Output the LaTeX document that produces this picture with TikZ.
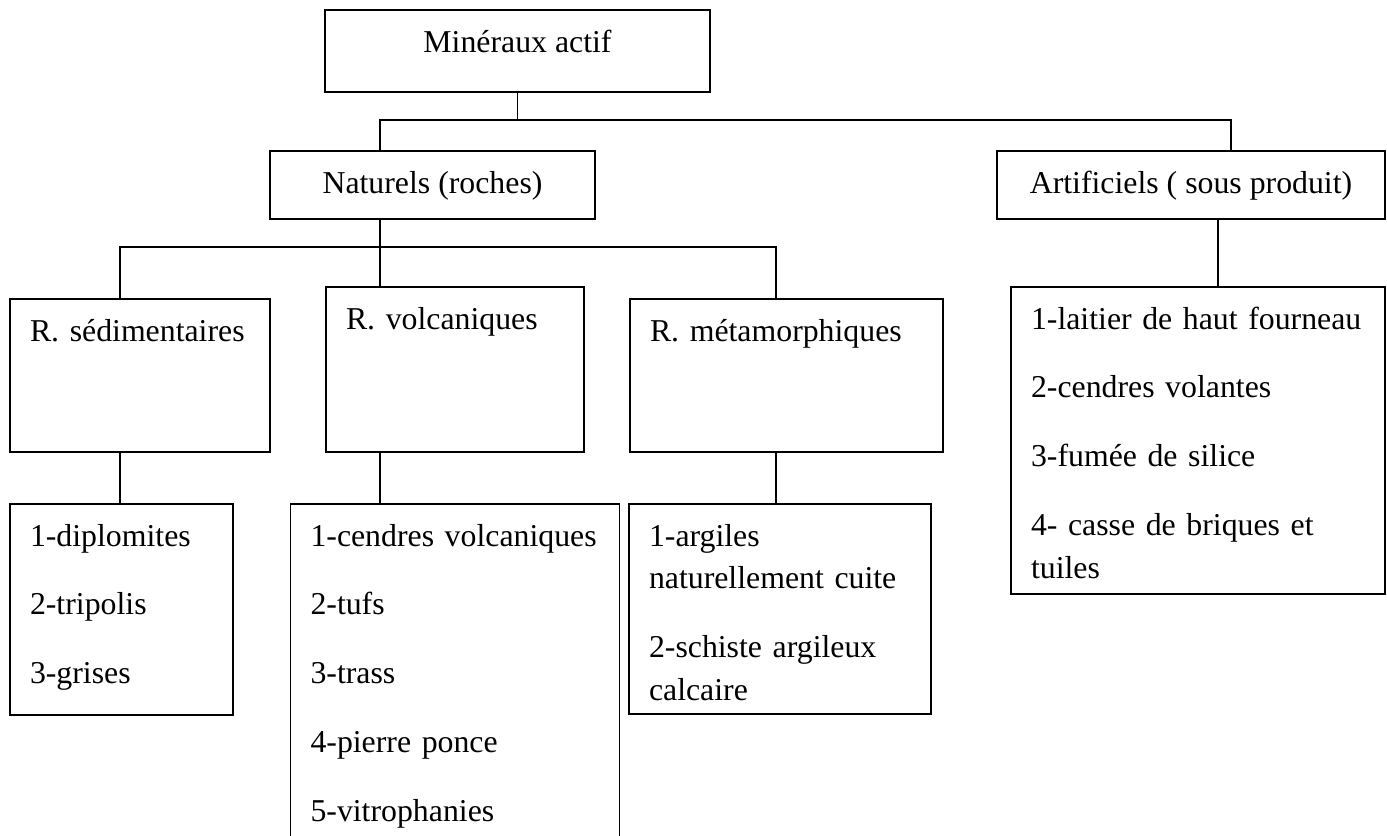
\documentclass[tikz,border=0pt]{standalone}
\usepackage{fontspec}
\setmainfont{Liberation Serif}
\usetikzlibrary{positioning}

\begin{document}
\begin{tikzpicture}[%
font=\fontsize{18.1pt}{24.4pt}\selectfont,
box/.style={draw, line width=1.1pt, inner xsep=0.4cm, inner ysep=0pt, outer sep=0pt, text height=0.84cm},
listbox/.style={box, align=left},
link/.style={line width=0.8pt},
on grid
]
\useasboundingbox (0,0) rectangle (27.74,-16.7);

\node[box, minimum width=7.7cm, text depth=0.8cm] (top) at (10.35,-1.02) {Minéraux actif};

\node[box, minimum width=6.5cm, text depth=0.52cm] (nat) [below left=2.68cm and 1.7cm of top] {Naturels (roches)};
\node[box, minimum width=7.76cm, text depth=0.52cm] (art) [below right=2.68cm and 13.47cm of top] {Artificiels ( sous produit)};

\node[listbox, text width=4.36cm, text depth=2.46cm] (volc) [below right=3.69cm and 0.45cm of nat] {R. volcaniques};
\node[listbox, text width=4.4cm, text depth=2.22cm] (sed) [below left=0.12cm and 6.3cm of volc] {R. sédimentaires};
\node[listbox, text width=5.46cm, text depth=2.22cm] (meta) [below right=0.12cm and 6.63cm of volc] {R. métamorphiques};

\node[listbox, text width=3.66cm, text depth=3.38cm] (dipl) [below left=4.68cm and 0.37cm of sed]
  {1-diplomites\\[0.52cm] 2-tripolis\\[0.52cm] 3-grises};
\node[listbox, text width=5.78cm, text depth=6.08cm] (cend) [below=6.15cm of volc]
  {1-cendres volcaniques\\[0.52cm] 2-tufs\\[0.52cm] 3-trass\\[0.52cm] 4-pierre ponce\\[0.52cm] 5-vitrophanies};
\node[listbox, text width=5.24cm, text depth=3.36cm] (argi) [below left=4.67cm and 0.13cm of meta]
  {1-argiles\\ naturellement cuite\\[0.52cm] 2-schiste argileux\\ calcaire};
\node[listbox, text width=6.68cm, text depth=5.3cm] (artl) [below right=5.11cm and 0.14cm of art]
  {1-laitier de haut fourneau\\[0.52cm] 2-cendres volantes\\[0.52cm] 3-fumée de silice\\[0.52cm] 4- casse de briques et\\ tuiles};

% first split
\coordinate (j1) at ([yshift=-0.56cm]top.south);
\draw[link] (top.south) -- (j1);
\draw[link] ([xshift=-1.05cm]nat.north) |- (j1) -| ([xshift=0.8cm]art.north);

% rocks
\coordinate (j2) at ([shift={(-1.05cm,-0.56cm)}]nat.south);
\draw[link] ([xshift=-1.05cm]nat.south) -- ([xshift=-1.5cm]volc.north);
\draw[link] ([xshift=-0.4cm]sed.north) |- (j2) -| ([xshift=-0.21cm]meta.north);

% lists
\draw[link] ([xshift=-0.4cm]sed.south) |- (dipl.north);
\draw[link] ([xshift=-1.5cm]volc.south) |- (cend.north);
\draw[link] ([xshift=-0.21cm]meta.south) |- (argi.north);
\draw[link] ([xshift=0.54cm]art.south) |- (artl.north);
\end{tikzpicture}
\end{document}
